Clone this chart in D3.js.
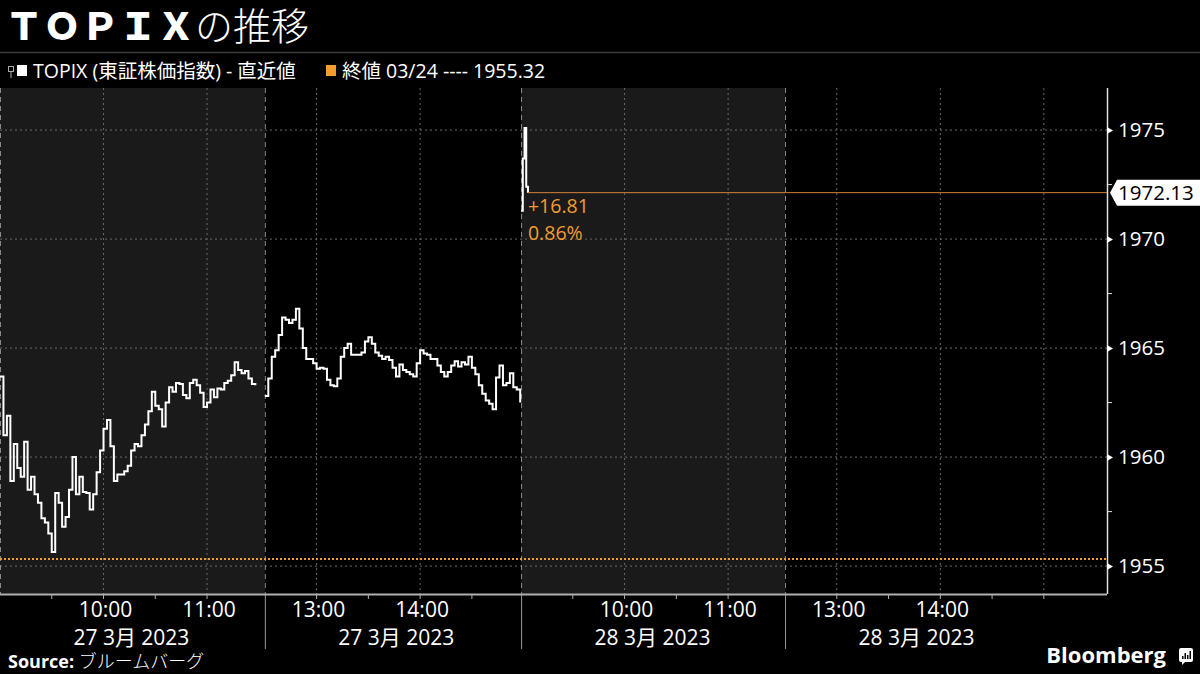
<!DOCTYPE html>
<html>
<head>
<meta charset="utf-8">
<script src="https://cdn.jsdelivr.net/npm/d3@7"></script>
<style>
  html, body { margin: 0; padding: 0; background: #000; }
  svg { display: block; }
  text { font-family: "Open Sans", "Noto Sans CJK JP", sans-serif; fill: #fff; }
</style>
</head>
<body>
<svg width="1200" height="674"></svg>
<script>
// sessions: TSE morning 9:00-11:30, afternoon 12:30-15:00
let sessionDates = ["27 3月 2023", "27 3月 2023", "28 3月 2023", "28 3月 2023"],
    sessionStarts = ["09:00", "12:30", "09:00", "12:30"],
    sessionOffsets = [0, 153.5, 302, 455], // chart minutes, lunch / overnight squeezed
    sessionLength = 150,
    hourLabels = ["10:00", "11:00", "13:00", "14:00"];

// 27 Mar, every 2 minutes
let morning27 = [
  1963.7, 1961.0, 1961.9, 1958.9, 1960.6, 1959.5, 1959.1, 1960.7, 1958.5, 1959.1,
  1958.3, 1957.9, 1957.2, 1957.0, 1956.5, 1955.65, 1958.35, 1957.9, 1956.8, 1957.25,
  1958.5, 1960.0, 1958.3, 1959.1, 1958.4, 1958.35, 1957.6, 1958.3, 1959.3, 1960.3,
  1961.3, 1961.7, 1960.5, 1958.9, 1959.2, 1959.2, 1959.35, 1959.6, 1960.3, 1960.6,
  1960.5, 1961.0, 1961.5, 1962.1, 1963.0, 1962.35, 1962.2, 1961.4, 1962.5, 1963.2,
  1963.0, 1963.4, 1963.35, 1962.85, 1962.7, 1963.4, 1963.55, 1963.3, 1962.95, 1962.3,
  1962.5, 1963.1, 1962.75, 1963.15, 1963.1, 1963.4, 1963.5, 1963.75, 1964.35, 1964.0,
  1963.85, 1963.95, 1963.6, 1963.35, 1963.3
];
let afternoon27 = [
  1962.8, 1963.6, 1964.6, 1964.9, 1965.6, 1966.4, 1966.3, 1966.15, 1966.3, 1966.8,
  1965.9, 1965.0, 1964.5, 1964.5, 1964.3, 1964.05, 1964.1, 1964.05, 1963.55, 1963.3,
  1963.25, 1963.6, 1964.6, 1965.0, 1965.2, 1964.7, 1964.7, 1964.7, 1964.8, 1965.3,
  1965.5, 1965.2, 1964.8, 1964.65, 1964.5, 1964.6, 1964.45, 1964.1, 1963.7, 1964.25,
  1964.0, 1963.9, 1963.8, 1963.7, 1964.3, 1964.9, 1964.75, 1964.7, 1964.5, 1964.5,
  1964.2, 1963.9, 1963.7, 1963.9, 1964.2, 1964.4, 1964.15, 1964.35, 1964.25, 1964.6,
  1964.1, 1963.8, 1963.3, 1962.9, 1962.6, 1962.45, 1962.2, 1963.65, 1964.2, 1963.3,
  1963.4, 1963.85, 1963.2, 1963.1, 1962.5
];
// 28 Mar, every minute
let morning28 = [1971.3, 1973.7, 1975.1, 1972.4, 1972.13];

let prevClose = 1955.32,
    lastValue = 1972.13,
    yTicks = [1955, 1960, 1965, 1970, 1975],
    yMinorTicks = [1957.5, 1962.5, 1967.5, 1972.5];

let series = [
  { session: 0, step: 2, values: morning27 },
  { session: 1, step: 2, values: afternoon27 },
  { session: 2, step: 1, values: morning28 }
];

let svg = d3.select("svg"),
    plotTop = 88,
    plotBottom = 594,
    plotRight = 1107,
    orange = "#f39c2f";

let x = d3.scaleLinear()
    .domain([0, sessionOffsets[3] + sessionLength + 36.6])
    .range([0, plotRight]);
let y = d3.scaleLinear().domain([1953.72, 1976.93]).range([plotBottom, plotTop]);

function toMin(s) { let p = s.split(":"); return +p[0] * 60 + +p[1]; }
function xs(session, minute) { return x(sessionOffsets[session] + minute); }

// shaded morning sessions
[0, 2].forEach(function(s) {
  svg.append("rect")
      .attr("x", xs(s, 0)).attr("y", plotTop)
      .attr("width", x(sessionOffsets[s + 1]) - xs(s, 0))
      .attr("height", plotBottom - plotTop)
      .attr("fill", "#1a1a1a");
});

// horizontal grid
svg.append("g").selectAll("line")
    .data(yTicks)
  .enter().append("line")
    .attr("x1", 0).attr("x2", plotRight)
    .attr("y1", y).attr("y2", y)
    .attr("stroke", "#6a6a6a").attr("stroke-dasharray", "2,3");

// vertical hour grid + ticks
let hourTicks = [], halfTicks = [];
sessionStarts.forEach(function(st, s) {
  let t0 = toMin(st);
  for (let m = 30; m <= sessionLength; m += 30) {
    if (m === sessionLength && s < 3) continue;
    halfTicks.push(xs(s, m));
    let t = t0 + m, label = d3.format("02")(Math.floor(t / 60)) + ":00";
    if (t % 60 === 0) hourTicks.push({ x: xs(s, m), label: hourLabels.indexOf(label) >= 0 ? label : null });
  }
});

svg.append("g").selectAll("line")
    .data(hourTicks)
  .enter().append("line")
    .attr("x1", d => d.x).attr("x2", d => d.x)
    .attr("y1", plotTop).attr("y2", plotBottom)
    .attr("stroke", "#6a6a6a").attr("stroke-dasharray", "2,3");

// session separators
svg.append("g").selectAll("line")
    .data(sessionOffsets)
  .enter().append("line")
    .attr("x1", d => x(d) + 0.5).attr("x2", d => x(d) + 0.5)
    .attr("y1", plotTop).attr("y2", plotBottom)
    .attr("stroke", "#8a8a8a").attr("stroke-dasharray", "5,4");

svg.append("g").selectAll("line")
    .data(sessionOffsets.slice(1))
  .enter().append("line")
    .attr("x1", d => x(d) + 0.5).attr("x2", d => x(d) + 0.5)
    .attr("y1", plotBottom).attr("y2", 649)
    .attr("stroke", "#9a9a9a");

// previous close
svg.append("line")
    .attr("x1", 0).attr("x2", plotRight)
    .attr("y1", y(prevClose)).attr("y2", y(prevClose))
    .attr("stroke", orange).attr("stroke-width", 2).attr("stroke-dasharray", "2,2");

// price line
let line = d3.line().curve(d3.curveStepAfter);
svg.append("g").selectAll("path")
    .data(series)
  .enter().append("path")
    .attr("d", d => line(d.values.map((v, i) => [xs(d.session, i * d.step), y(v)])))
    .attr("fill", "none")
    .attr("stroke", "#fff")
    .attr("stroke-width", 2);

// last value marker
let last = series[series.length - 1],
    lastX = xs(last.session, (last.values.length - 1) * last.step),
    change = lastValue - prevClose;

svg.append("line")
    .attr("x1", lastX).attr("x2", plotRight)
    .attr("y1", y(lastValue)).attr("y2", y(lastValue))
    .attr("stroke", "#d77f3a").attr("stroke-width", 1);

svg.append("text")
    .attr("x", lastX).attr("y", y(lastValue) + 20)
    .attr("font-size", 19.5).style("fill", orange)
    .text((change > 0 ? "+" : "") + change.toFixed(2));
svg.append("text")
    .attr("x", lastX).attr("y", y(lastValue) + 47)
    .attr("font-size", 19.5).style("fill", orange)
    .text((change / prevClose * 100).toFixed(2) + "%");

// x axis
svg.append("line")
    .attr("x1", 0).attr("x2", plotRight)
    .attr("y1", plotBottom + 0.5).attr("y2", plotBottom + 0.5)
    .attr("stroke", "#b0b0b0").attr("stroke-width", 2);

svg.append("g").selectAll("line")
    .data(halfTicks)
  .enter().append("line")
    .attr("x1", d => d).attr("x2", d => d)
    .attr("y1", plotBottom).attr("y2", plotBottom + 5)
    .attr("stroke", "#b0b0b0");

svg.append("g").selectAll("text")
    .data(hourTicks.filter(d => d.label))
  .enter().append("text")
    .attr("x", d => d.x + 2).attr("y", 617)
    .attr("text-anchor", "middle")
    .attr("font-size", 21)
    .text(d => d.label);

svg.append("g").selectAll("text")
    .data(sessionDates)
  .enter().append("text")
    .attr("x", (d, i) => xs(i, sessionLength / 2) + 2).attr("y", 645)
    .attr("text-anchor", "middle")
    .attr("font-size", 21)
    .text(d => d);

// y axis
svg.append("line")
    .attr("x1", plotRight + 0.5).attr("x2", plotRight + 0.5)
    .attr("y1", plotTop).attr("y2", plotBottom)
    .attr("stroke", "#e0e0e0").attr("stroke-width", 1.5);

let yAxis = svg.append("g")
    .attr("transform", "translate(" + plotRight + ",0)")
    .call(d3.axisRight(y).tickValues(yTicks).tickSize(0).tickPadding(11).tickFormat(d3.format("d")));
yAxis.select(".domain").remove();
yAxis.selectAll("text").attr("font-size", 20.5).style("fill", "#fff")
    .attr("font-family", "\"Open Sans\", sans-serif");
yAxis.selectAll(".tick").append("path")
    .attr("d", "M0,-3.5L6,0L0,3.5Z")
    .attr("fill", "#fff");

svg.append("g").selectAll("line")
    .data(yMinorTicks)
  .enter().append("line")
    .attr("x1", plotRight).attr("x2", plotRight + 5)
    .attr("y1", y).attr("y2", y)
    .attr("stroke", "#e0e0e0");

let ly = y(lastValue);
svg.append("path")
    .attr("d", "M" + (plotRight + 3) + "," + ly + "L" + (plotRight + 10) + "," + (ly - 13) +
               "L1200," + (ly - 13) + "L1200," + (ly + 13) + "L" + (plotRight + 10) + "," + (ly + 13) + "Z")
    .attr("fill", "#fff");
svg.append("text")
    .attr("x", plotRight + 11).attr("y", ly + 7)
    .attr("font-size", 20.5).style("fill", "#000")
    .text(lastValue.toFixed(2));

// title
let title = svg.append("text")
    .attr("x", 5).attr("y", 40)
    .attr("font-family", "\"Noto Sans CJK JP\", sans-serif")
    .attr("font-size", 38);
title.append("tspan").attr("font-weight", 900).text("ＴＯＰＩＸ");
title.append("tspan").attr("font-weight", 300).text("の推移");

svg.append("line")
    .attr("x1", 0).attr("x2", 1200).attr("y1", 52.5).attr("y2", 52.5)
    .attr("stroke", "#3c3c3c").attr("stroke-width", 1.5);

// legend
let legend = svg.append("g").attr("font-family", "\"Noto Sans CJK JP\", sans-serif");
legend.append("rect").attr("x", 8.5).attr("y", 66.5).attr("width", 5).attr("height", 5)
    .attr("fill", "none").attr("stroke", "#aaa");
legend.append("line").attr("x1", 11).attr("x2", 11).attr("y1", 72).attr("y2", 78).attr("stroke", "#aaa");
legend.append("rect").attr("x", 17).attr("y", 65).attr("width", 10).attr("height", 11).attr("fill", "#fff");
legend.append("text").attr("x", 33).attr("y", 78).attr("font-size", 19.5)
    .text("TOPIX (東証株価指数) - 直近値");
legend.append("rect").attr("x", 326).attr("y", 65).attr("width", 10).attr("height", 11).attr("fill", orange);
legend.append("text").attr("x", 342).attr("y", 78).attr("font-size", 19.5)
    .text("終値 03/24 ---- " + prevClose.toFixed(2));

// footer
let source = svg.append("text")
    .attr("x", 8).attr("y", 668)
    .attr("font-family", "\"Noto Sans CJK JP\", sans-serif")
    .attr("font-size", 18);
source.append("tspan").attr("font-weight", 700).text("Source: ");
source.append("tspan").attr("font-weight", 300).text("ブルームバーグ");

svg.append("text")
    .attr("x", 1166).attr("y", 663)
    .attr("text-anchor", "end")
    .attr("font-family", "\"Liberation Sans\", sans-serif")
    .attr("font-weight", 700)
    .attr("font-size", 22)
    .text("Bloomberg");

let logo = svg.append("g").attr("transform", "translate(1179,648)");
logo.append("path")
    .attr("d", "M2,0H12Q14,0 14,2V12Q14,14 12,14H6L3,17V14H2Q0,14 0,12V2Q0,0 2,0Z")
    .attr("fill", "#fff");
[[3, 8], [5.5, 5], [8, 7], [10.5, 3]].forEach(function(b) {
  logo.append("rect").attr("x", b[0]).attr("y", b[1]).attr("width", 1.5).attr("height", 11 - b[1])
      .attr("fill", "#000");
});
</script>
</body>
</html>
